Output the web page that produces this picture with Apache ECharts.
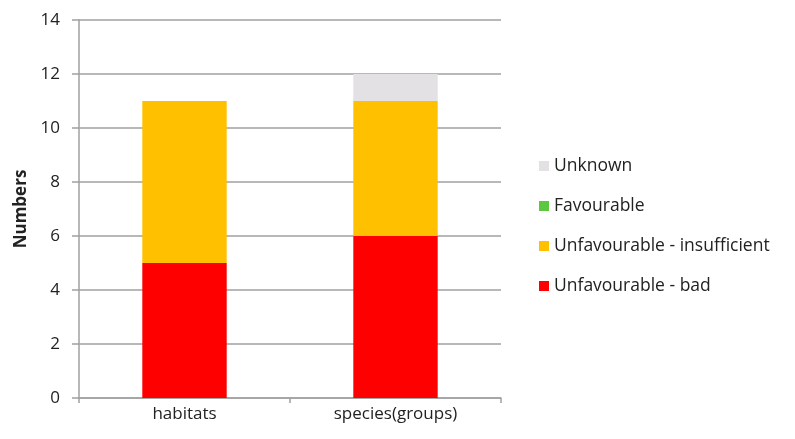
<!DOCTYPE html>
<html><head><meta charset="utf-8">
<script src="https://cdn.jsdelivr.net/npm/echarts@6/dist/echarts.min.js"></script>
<style>html,body{margin:0;padding:0;background:#fff}#c{width:795px;height:439px}</style>
</head><body><div id="c"></div>
<script>
const categories = ['habitats', 'species(groups)'];
const bad = [5, 6];
const insufficient = [6, 5];
const favourable = [0, 0];
const unknown = [0, 1];
const yTicks = [0, 2, 4, 6, 8, 10, 12, 14];

const font = '"Open Sans", sans-serif';
const chart = echarts.init(document.getElementById('c'));
function s(name, data, color) {
  return { name, type: 'bar', stack: 'a', data, barWidth: '40%', itemStyle: { color }, emphasis: { disabled: true } };
}
chart.setOption({
  animation: false,
  grid: { left: 79, right: 294, top: 20, bottom: 41, containLabel: false, outerBoundsMode: 'none' },
  legend: {
    orient: 'vertical', left: 534, top: 150, itemGap: 18, itemWidth: 10, itemHeight: 10,
    icon: 'rect',
    data: ['Unknown', 'Favourable', 'Unfavourable - insufficient', 'Unfavourable - bad'],
    textStyle: { fontFamily: font, fontSize: 17.5, color: '#222', lineHeight: 22 }
  },
  xAxis: {
    type: 'category', data: categories,
    axisLine: { lineStyle: { color: '#a0a0a0', width: 1.5 } },
    axisTick: { show: true, alignWithLabel: false, length: 5, lineStyle: { color: '#a0a0a0', width: 1.5 } },
    axisLabel: { fontFamily: font, fontSize: 17, color: '#222', margin: 8 }
  },
  yAxis: {
    type: 'value', min: yTicks[0], max: yTicks[yTicks.length - 1], interval: 2,
    name: 'Numbers', nameLocation: 'middle', nameGap: 49, nameRotate: 90,
    nameTextStyle: { fontFamily: font, fontSize: 17, fontWeight: 'bold', color: '#222' },
    axisLine: { show: true, lineStyle: { color: '#a0a0a0', width: 1.5 } },
    axisTick: { show: true, length: 7, lineStyle: { color: '#a0a0a0', width: 1.5 } },
    axisLabel: { fontFamily: font, fontSize: 17, color: '#222', margin: 19 },
    splitLine: { lineStyle: { color: '#a0a0a0', width: 1.5 } }
  },
  series: [
    s('Unfavourable - bad', bad, '#ff0000'),
    s('Unfavourable - insufficient', insufficient, '#ffc000'),
    s('Favourable', favourable, '#5cc840'),
    s('Unknown', unknown, '#e3e1e3')
  ]
});
</script></body></html>
